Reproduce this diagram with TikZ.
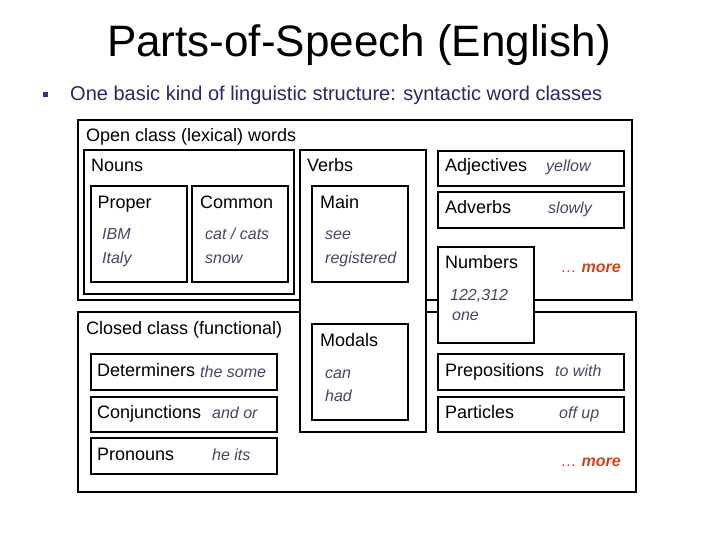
\documentclass[tikz,border=0pt]{standalone}
\usepackage{fontspec}
\setmainfont{Liberation Sans}
\definecolor{navy}{RGB}{40,40,100}
\definecolor{bul}{RGB}{51,51,140}
\definecolor{excol}{RGB}{70,70,100}
\definecolor{morecol}{RGB}{200,70,30}
\begin{document}
\begin{tikzpicture}[x=1pt,y=-1pt,
  box/.style={draw=black, line width=1.2pt, fill=white},
  lab/.style={anchor=base west, inner sep=0pt, font=\fontsize{18}{20}\selectfont},
  ex/.style={anchor=base west, inner sep=0pt, text=excol, font=\fontsize{16}{18}\selectfont\itshape},
  more/.style={anchor=base west, inner sep=0pt, text=morecol, font=\fontsize{16}{18}\selectfont\itshape}]
\useasboundingbox (0,0) rectangle (720,540);
% title and bullet
\node[anchor=base, inner sep=0pt, font=\fontsize{44}{48}\selectfont] (title) at (359,57) {Parts-of-Speech (English)};
\node[fill=bul, minimum size=5pt, inner sep=0pt] (bullet) at (45.5,94.5) {};
\node[anchor=base west, inner sep=0pt, text=navy, font=\fontsize{20}{24}\selectfont] (sub) at (70,101) {One basic kind of linguistic structure: syntactic word classes};
% open class
\draw[box] (78,120) rectangle (632,300);
\node[lab] (open) at (86,142) {Open class (lexical) words};
\draw[box] (84,150) rectangle (294,294);
\node[lab] (nouns) at (91,172) {Nouns};
\draw[box] (91,186) rectangle (187,282);
\node[lab] (proper) at (97.5,208) {Proper};
\node[ex] (ibm) at (102,240) {IBM};
\node[ex] (italy) at (102,263) {Italy};
\draw[box] (192,186) rectangle (288,282);
\node[lab] (common) at (200,208) {Common};
\node[ex] (cat) at (205,240) {cat / cats};
\node[ex] (snow) at (205,263) {snow};
\draw[box] (438,151) rectangle (624,186);
\node[lab] (adj) at (445,172) {Adjectives};
\node[ex] (yellow) at (546,172) {yellow};
\draw[box] (438,192) rectangle (624,228);
\node[lab] (adv) at (445,214) {Adverbs};
\node[ex] (slowly) at (548,214) {slowly};
\node[more] (more1) at (561,272) {\ldots{} \bfseries more};
% closed class
\draw[box] (78,312) rectangle (636,492);
\node[lab] (closed) at (86,334) {Closed class (functional)};
\draw[box] (91,354) rectangle (277,390);
\node[lab] (det) at (97,376) {Determiners};
\node[ex] (thesome) at (200,377) {the some};
\draw[box] (91,397) rectangle (277,432);
\node[lab] (conj) at (97,418) {Conjunctions};
\node[ex] (andor) at (212,418) {and or};
\draw[box] (91,438) rectangle (277,474);
\node[lab] (pron) at (97,460) {Pronouns};
\node[ex] (heits) at (212,460) {he its};
\draw[box] (438,354) rectangle (624,390);
\node[lab] (prep) at (445,376) {Prepositions};
\node[ex] (towith) at (555,376) {to with};
\draw[box] (438,397) rectangle (624,432);
\node[lab] (part) at (445,418) {Particles};
\node[ex] (offup) at (559,418) {off up};
\node[more] (more2) at (561,466) {\ldots{} \bfseries more};
% verbs (on top)
\draw[box] (300,150) rectangle (426,432);
\node[lab] (verbs) at (307,172) {Verbs};
\draw[box] (312,186) rectangle (408,282);
\node[lab] (main) at (320,208) {Main};
\node[ex] (see) at (325,240) {see};
\node[ex] (registered) at (325,263) {registered};
\draw[box] (312,324) rectangle (408,420);
\node[lab] (modals) at (320,346) {Modals};
\node[ex] (can) at (325,378) {can};
\node[ex] (had) at (325,401) {had};
% numbers (on top)
\draw[box] (438,247) rectangle (534,343);
\node[lab] (numbers) at (445,268) {Numbers};
\node[ex] (num) at (450,300) {122,312};
\node[ex] (one) at (452,320) {one};
\end{tikzpicture}
\end{document}
